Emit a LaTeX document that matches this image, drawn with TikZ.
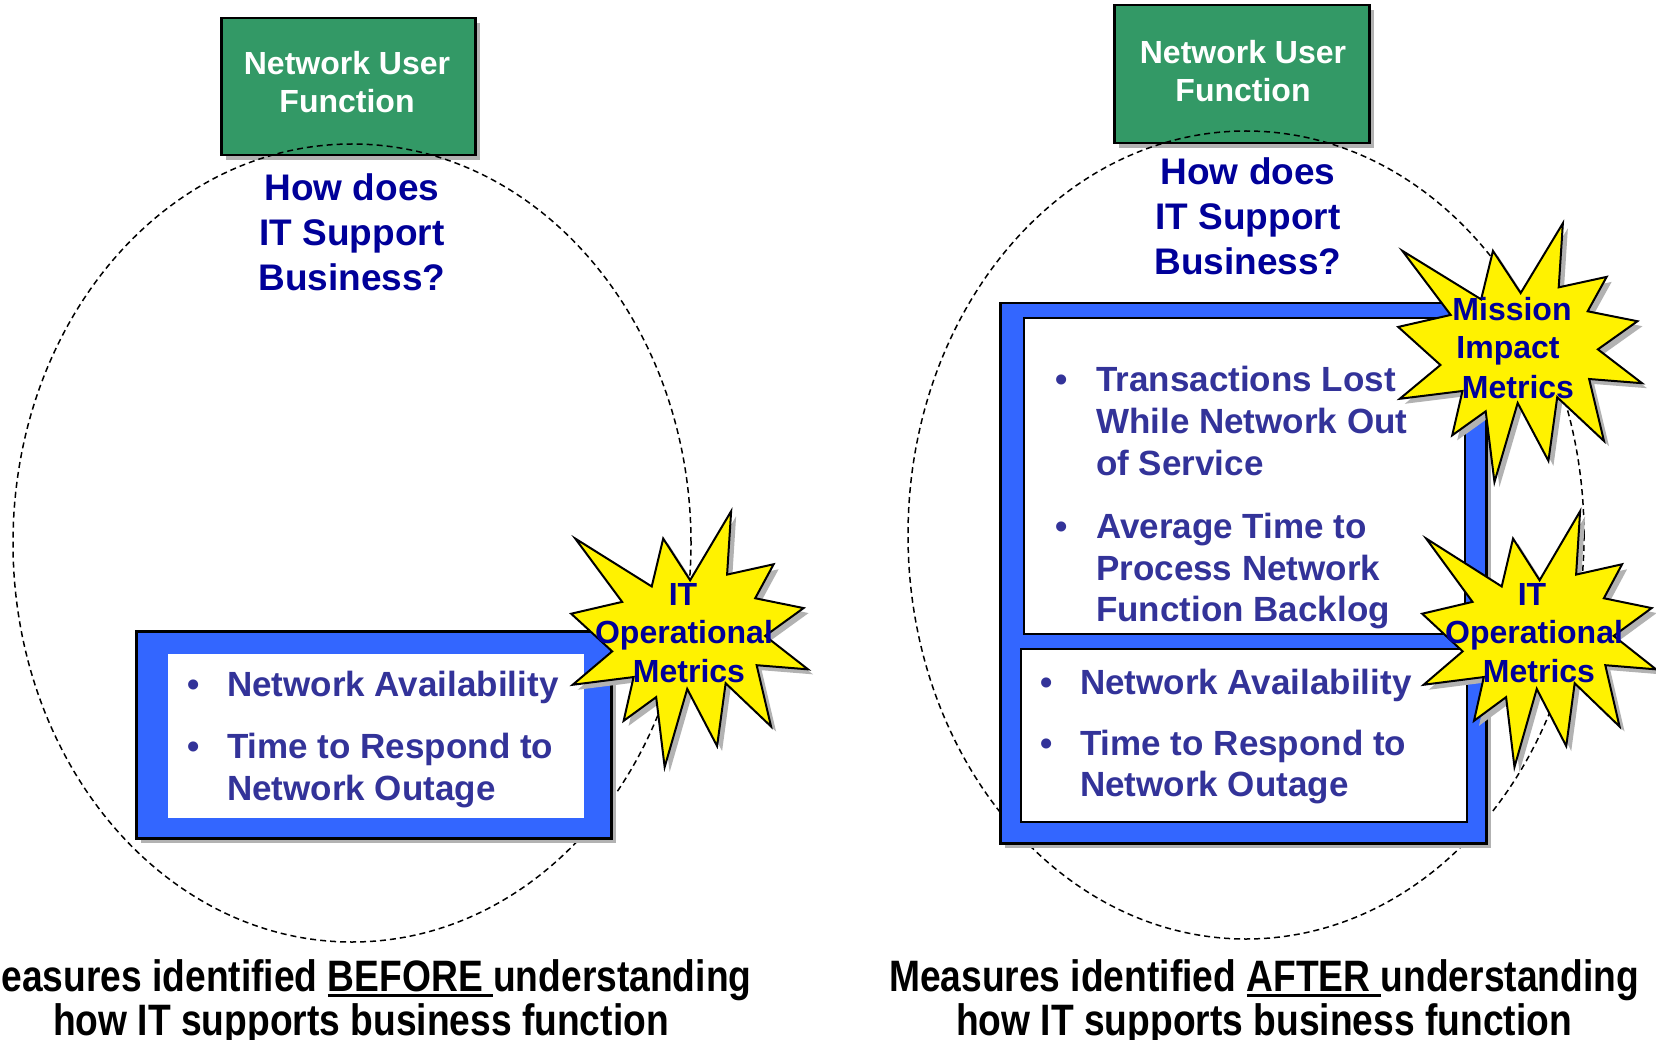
\documentclass[tikz,border=0pt]{standalone}
\usepackage{fontspec}
\setmainfont{Liberation Sans}
\newfontfamily\narrowfont[FakeStretch=0.845]{Liberation Sans}
\usetikzlibrary{shadows}
\definecolor{ngreen}{RGB}{51,153,102}
\definecolor{nblue}{RGB}{51,102,255}
\definecolor{tblue}{RGB}{51,51,153}
\definecolor{dblue}{RGB}{0,0,153}
\newcommand{\myul}[1]{\setbox0=\hbox{#1}\rlap{\rule[-6pt]{\wd0}{3pt}}\box0}
\newcommand{\sealpath}{(0.5047,0.2734) -- (0.3916,0.1111) -- (0.3434,0.2975) -- (0.0220,0.1111) -- (0.2191,0.3575) -- (0.0049,0.4036) -- (0.1772,0.5500) -- (0.0113,0.6800) -- (0.2672,0.6500) -- (0.2254,0.8203) -- (0.3620,0.7282) -- (0.3977,1.0000) -- (0.4925,0.6962) -- (0.6180,0.9185) -- (0.6539,0.6741) -- (0.8448,0.8424) -- (0.7842,0.6039) -- (1.0000,0.6200) -- (0.8199,0.4898) -- (0.9814,0.3816) -- (0.7781,0.3434) -- (0.8556,0.2111) -- (0.6600,0.2513) -- (0.6770,0.0049) -- cycle}
\newcommand{\seal}[4]{%
  \begin{scope}[shift={(#1,#2)},x=#3pt,y=-#4pt]
    \filldraw[fill=yellow,draw=black,line width=2pt,line join=miter,shad] \sealpath;
  \end{scope}}
\begin{document}
\begin{tikzpicture}[x=1pt,y=-1pt,
  shad/.style={drop shadow={shadow xshift=5pt,shadow yshift=-5pt,fill=black!30,opacity=1}},
  greenbox/.style={draw=black,line width=2.5pt,fill=ngreen,shad,inner sep=0,anchor=north west},
  bluebox/.style={draw=black,line width=2.5pt,fill=nblue,shad,inner sep=0,anchor=north west},
  whitebox/.style={fill=white,inner sep=0,anchor=north west},
  whiteboxb/.style={fill=white,draw=black,line width=2pt,inner sep=0,anchor=north west},
  gtext/.style={text=white,font=\fontsize{32}{38}\selectfont\bfseries,inner sep=0,anchor=base},
  qtext/.style={text=dblue,font=\fontsize{37}{45}\selectfont\bfseries,inner sep=0,anchor=base},
  stext/.style={text=dblue,font=\fontsize{32}{38}\selectfont\bfseries,inner sep=0,anchor=base},
  btext/.style={text=tblue,font=\fontsize{35}{42}\selectfont\bfseries,inner sep=0,anchor=base west},
  bul/.style={text=tblue,font=\fontsize{35}{42}\selectfont\bfseries,inner sep=0,anchor=base},
  captxt/.style={text=black,font=\fontsize{44}{46}\selectfont\narrowfont\bfseries,inner sep=0,anchor=base},
  oval/.style={draw=black,line width=1.5pt,dash pattern=on 6pt off 4pt}]
\clip (0,0) rectangle (1656,1040);
\fill[white] (0,0) rectangle (1656,1040);

% green boxes
\node (g1) [greenbox,minimum width=254pt,minimum height=137pt] at (220,17) {};
\node (g1a) [gtext] at (347,75) {Network User};
\node (g1b) [gtext] at (347,113) {Function};
\node (g2) [greenbox,minimum width=255pt,minimum height=138pt] at (1113,4) {};
\node (g2a) [gtext] at (1243,64) {Network User};
\node (g2b) [gtext] at (1243,102) {Function};

% ellipses
\draw[oval] (352,543) ellipse [x radius=339pt,y radius=399pt];
\draw[oval] (1246,535) ellipse [x radius=338pt,y radius=404pt];

% questions
\node (q1a) [qtext] at (352,201) {How does};
\node (q1b) [qtext] at (352,246) {IT Support};
\node (q1c) [qtext] at (352,291) {Business?};
\node (q2a) [qtext] at (1248,185) {How does};
\node (q2b) [qtext] at (1248,230) {IT Support};
\node (q2c) [qtext] at (1248,275) {Business?};

% left blue box
\node (b1) [bluebox,minimum width=475pt,minimum height=207pt] at (135,630) {};
\node (w1) [whitebox,minimum width=416pt,minimum height=164pt] at (168,654) {};
\node (l1d1) [bul] at (194,696) {•};
\node (l1t1) [btext] at (227,696) {Network Availability};
\node (l1d2) [bul] at (194,758) {•};
\node (l1t2) [btext] at (227,758) {Time to Respond to};
\node (l1t3) [btext] at (227,800) {Network Outage};

% right blue box
\node (b2) [bluebox,minimum width=486pt,minimum height=540pt] at (999,302) {};
\node (w2) [whiteboxb,minimum width=441pt,minimum height=316pt] at (1023,317) {};
\node (w3) [whiteboxb,minimum width=446pt,minimum height=173pt] at (1020,648) {};
\node (r1d1) [bul] at (1062,391) {•};
\node (r1t1) [btext] at (1096,391) {Transactions Lost};
\node (r1t2) [btext] at (1096,433) {While Network Out};
\node (r1t3) [btext] at (1096,475) {of Service};
\node (r1d2) [bul] at (1062,538) {•};
\node (r1t4) [btext] at (1096,538) {Average Time to};
\node (r1t5) [btext] at (1096,580) {Process Network};
\node (r1t6) [btext] at (1096,621) {Function Backlog};
\node (r2d1) [bul] at (1047,694) {•};
\node (r2t1) [btext] at (1080,694) {Network Availability};
\node (r2d2) [bul] at (1047,755) {•};
\node (r2t2) [btext] at (1080,755) {Time to Respond to};
\node (r2t3) [btext] at (1080,796) {Network Outage};

% stars
\seal{570}{510}{238}{257}
\node (s1a) [stext] at (683,605) {IT};
\node (s1b) [stext] at (684,643) {Operational};
\node (s1c) [stext] at (689,682) {Metrics};
\seal{1397}{222}{245}{260}
\node (m1) [stext] at (1512,320) {Mission};
\node (m2) [stext] at (1508,359) {Impact};
\node (m3) [stext] at (1518,398) {Metrics};
\seal{1421}{510}{235}{257}
\node (s2a) [stext] at (1532,605) {IT};
\node (s2b) [stext] at (1534,643) {Operational};
\node (s2c) [stext] at (1539,682) {Metrics};

% captions
\node (c1a) [captxt] at (361,991) {Measures identified \myul{BEFORE }understanding};
\node (c1b) [captxt] at (361,1035) {how IT supports business function};
\node (c2a) [captxt] at (1264,991) {Measures identified \myul{AFTER }understanding};
\node (c2b) [captxt] at (1264,1035) {how IT supports business function};
\end{tikzpicture}
\end{document}
